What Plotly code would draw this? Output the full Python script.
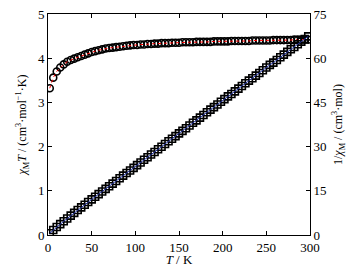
import plotly.graph_objects as go

T = [2, 6, 10, 14, 18, 22, 26, 30, 34, 38, 42, 46, 50, 54, 58, 62, 66, 70, 74, 78,
     82, 86, 90, 94, 98, 102, 106, 110, 114, 118, 122, 126, 130, 134, 138, 142, 146,
     150, 154, 158, 162, 166, 170, 174, 178, 182, 186, 190, 194, 198, 202, 206, 210,
     214, 218, 222, 226, 230, 234, 238, 242, 246, 250, 254, 258, 262, 266, 270, 274,
     278, 282, 286, 290, 294, 298]

chiT = [3.32, 3.56, 3.70, 3.79, 3.86, 3.92, 3.96, 3.99, 4.02, 4.05, 4.08, 4.11, 4.14,
        4.16, 4.18, 4.20, 4.22, 4.23, 4.24, 4.25, 4.26, 4.27, 4.28, 4.29, 4.30, 4.30,
        4.31, 4.31, 4.32, 4.32, 4.33, 4.33, 4.34, 4.34, 4.34, 4.35, 4.35, 4.35, 4.36,
        4.36, 4.36, 4.36, 4.37, 4.37, 4.37, 4.37, 4.37, 4.38, 4.38, 4.38, 4.38, 4.38,
        4.39, 4.39, 4.39, 4.39, 4.39, 4.39, 4.40, 4.40, 4.40, 4.40, 4.40, 4.40, 4.41,
        4.41, 4.41, 4.41, 4.41, 4.41, 4.42, 4.42, 4.42, 4.42, 4.42]

inv_chi = [0.60, 1.69, 2.70, 3.69, 4.66, 5.61, 6.57, 7.52, 8.46, 9.38, 10.29, 11.19,
           12.08, 12.98, 13.88, 14.76, 15.64, 16.55, 17.45, 18.35, 19.25, 20.14, 21.03,
           21.91, 22.79, 23.72, 24.59, 25.52, 26.39, 27.31, 28.18, 29.10, 29.95, 30.88,
           31.80, 32.64, 33.56, 34.48, 35.32, 36.24, 37.16, 38.07, 38.90, 39.82, 40.73,
           41.65, 42.56, 43.38, 44.29, 45.21, 46.12, 47.03, 47.84, 48.75, 49.66, 50.57,
           51.48, 52.39, 53.18, 54.09, 55.00, 55.91, 56.82, 57.73, 58.50, 59.41, 60.32,
           61.22, 62.13, 63.04, 63.80, 64.71, 65.61, 66.52, 67.42]

xticks = [0, 50, 100, 150, 200, 250, 300]
y1ticks = [0, 1, 2, 3, 4, 5]
y2ticks = [0, 15, 30, 45, 60, 75]

FONT = "Liberation Serif, Times New Roman, serif"

fig = go.Figure()
fig.add_trace(go.Scatter(x=T, y=chiT, mode="markers",
                         marker=dict(symbol="circle-open", size=7, color="black",
                                     line=dict(width=1.6, color="black")),
                         showlegend=False))
fig.add_trace(go.Scatter(x=T, y=chiT, mode="lines",
                         line=dict(color="red", width=1, dash="dot"),
                         showlegend=False))
fig.add_trace(go.Scatter(x=T, y=inv_chi, mode="markers", yaxis="y2",
                         marker=dict(symbol="square-open", size=7, color="black",
                                     line=dict(width=1.6, color="black")),
                         showlegend=False))
fig.add_trace(go.Scatter(x=T, y=inv_chi, mode="lines", yaxis="y2",
                         line=dict(color="#2030a0", width=1),
                         showlegend=False))

axis_common = dict(showgrid=False, zeroline=False, showline=True, linecolor="black",
                   linewidth=1, ticks="inside", ticklen=4, tickcolor="black",
                   automargin=False,
                   tickfont=dict(family=FONT, size=13, color="black"))

fig.update_layout(
    width=355, height=267,
    margin=dict(l=48, r=45, t=14, b=32),
    paper_bgcolor="white", plot_bgcolor="white",
    font=dict(family=FONT, color="black"),
    xaxis=dict(range=[0, 300], tickvals=xticks, mirror="ticks",
               title=dict(text="<i>T</i> / K", font=dict(family=FONT, size=13), standoff=3),
               **axis_common),
    yaxis=dict(range=[0, 5], tickvals=y1ticks, mirror=False,
               title=dict(text="<i>χ</i><sub>M</sub><i>T</i> / (cm<sup>3</sup>·mol<sup>−1</sup>·K)",
                          font=dict(family=FONT, size=12), standoff=8),
               **axis_common),
    yaxis2=dict(range=[0, 75], tickvals=y2ticks, overlaying="y", side="right",
                title=dict(text="1/<i>χ</i><sub>M</sub> / (cm<sup>3</sup>·mol)",
                           font=dict(family=FONT, size=12), standoff=8),
                **axis_common),
)

fig.write_html("out.html", config={"displayModeBar": False},
               post_script="document.body.style.margin='0';")
